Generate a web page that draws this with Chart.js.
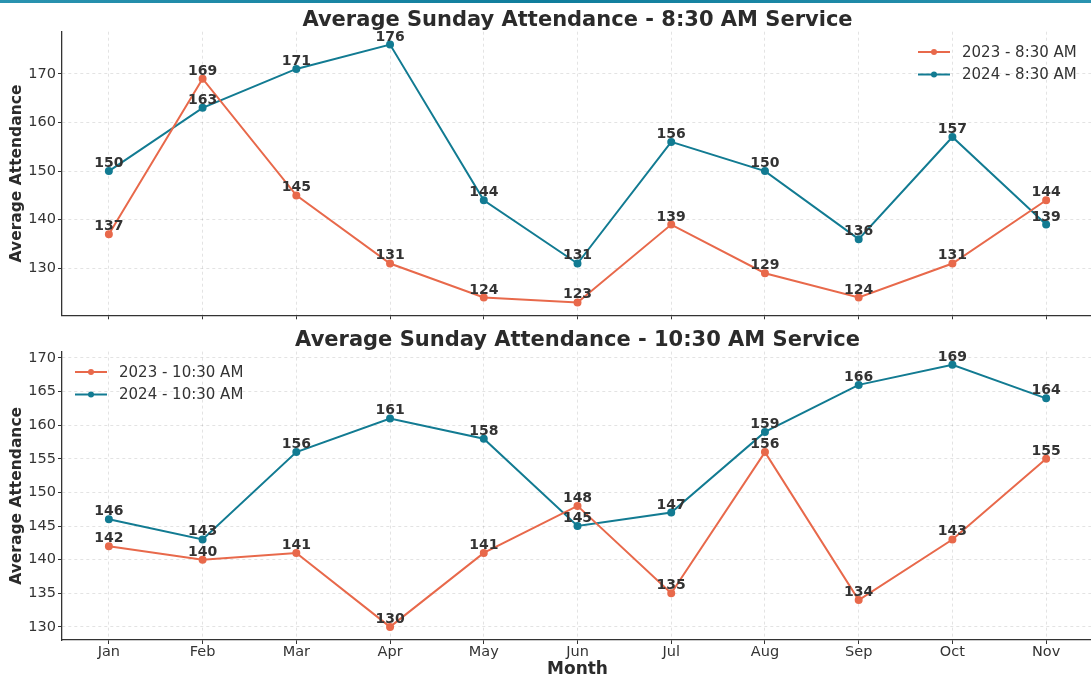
<!DOCTYPE html>
<html>
<head>
<meta charset="utf-8">
<script src="https://cdn.jsdelivr.net/npm/chart.js@4.4.0/dist/chart.umd.min.js"></script>
<style>
  body { margin: 0; width: 1091px; height: 681px; overflow: hidden; background: #fff; }
  #band { position: absolute; left: 0; top: 0; width: 1091px; height: 3px;
          background: linear-gradient(90deg, #2a93b0, #0f7d9c, #2a93b0); z-index: 2; }
  .box { position: absolute; left: 0; }
</style>
</head>
<body>
<div id="band"></div>
<div class="box" style="top:0"><canvas id="early" width="1100" height="326"></canvas></div>
<div class="box" style="top:326px"><canvas id="late" width="1100" height="355"></canvas></div>
<script>
// month labels and attendance per service
const months = ['Jan', 'Feb', 'Mar', 'Apr', 'May', 'Jun', 'Jul', 'Aug', 'Sep', 'Oct', 'Nov'];
const early2023 = [137, 169, 145, 131, 124, 123, 139, 129, 124, 131, 144];
const early2024 = [150, 163, 171, 176, 144, 131, 156, 150, 136, 157, 139];
const late2023 = [142, 140, 141, 130, 141, 148, 135, 156, 134, 143, 155];
const late2024 = [146, 143, 156, 161, 158, 145, 147, 159, 166, 169, 164];
const earlyTicks = [130, 140, 150, 160, 170];
const lateTicks = [130, 135, 140, 145, 150, 155, 160, 165, 170];

const ORANGE = '#e8694b';
const TEAL = '#127b92';
const FONT = "'DejaVu Sans', sans-serif";
const INK = '#333';

// matplotlib-style 5% margin around the data
function padRange(a, b) {
    const all = a.concat(b);
    const lo = Math.min(...all), hi = Math.max(...all);
    const m = (hi - lo) * 0.05;
    return [lo - m, hi + m];
}

// titles, legend and point labels
const decor = {
    id: 'decor',
    afterDatasetsDraw(chart) {
        const o = chart.options.plugins.decor;
        const ctx = chart.ctx;
        const area = chart.chartArea;
        ctx.save();

        // value labels
        ctx.font = 'bold 14px ' + FONT;
        ctx.fillStyle = INK;
        ctx.textAlign = 'center';
        ctx.textBaseline = 'alphabetic';
        chart.data.datasets.forEach((ds, i) => {
            chart.getDatasetMeta(i).data.forEach((pt, j) => {
                ctx.fillText(ds.data[j], pt.x, pt.y - 4);
            });
        });

        // title
        ctx.font = 'bold 21px ' + FONT;
        ctx.textBaseline = 'middle';
        ctx.fillStyle = '#2b2b2b';
        ctx.fillText(o.title, (area.left + area.right) / 2, o.titleY);

        // y axis title
        ctx.save();
        ctx.translate(17, (area.top + area.bottom) / 2);
        ctx.rotate(-Math.PI / 2);
        ctx.font = 'bold 15.5px ' + FONT;
        ctx.fillText('Average Attendance', 0, 0);
        ctx.restore();

        if (o.xTitle) {
            ctx.font = 'bold 17px ' + FONT;
            ctx.fillText(o.xTitle, (area.left + area.right) / 2, o.xTitleY);
        }

        // legend
        ctx.font = '15px ' + FONT;
        ctx.textAlign = 'left';
        chart.data.datasets.forEach((ds, i) => {
            const y = o.legendY + i * 22.5;
            const x = o.legendX;
            ctx.strokeStyle = ds.borderColor;
            ctx.lineWidth = 2;
            ctx.beginPath();
            ctx.moveTo(x, y);
            ctx.lineTo(x + 32, y);
            ctx.stroke();
            ctx.fillStyle = ds.borderColor;
            ctx.beginPath();
            ctx.arc(x + 16, y, 3, 0, Math.PI * 2);
            ctx.fill();
            ctx.fillStyle = INK;
            ctx.fillText(ds.label, x + 44, y + 1);
        });
        ctx.restore();
    }
};

function makeChart(id, labels, seriesA, seriesB, names, ticks, opts) {
    const range = padRange(seriesA, seriesB);
    return new Chart(document.getElementById(id), {
        type: 'line',
        data: {
            labels: labels,
            datasets: [
                { label: names[0], data: seriesA, borderColor: ORANGE, backgroundColor: ORANGE,
                  borderWidth: 2, pointRadius: 3, pointHoverRadius: 3, tension: 0 },
                { label: names[1], data: seriesB, borderColor: TEAL, backgroundColor: TEAL,
                  borderWidth: 2, pointRadius: 3, pointHoverRadius: 3, tension: 0 }
            ]
        },
        options: {
            responsive: false,
            animation: false,
            layout: { padding: { top: opts.top, right: 7, left: 0, bottom: 0 } },
            plugins: {
                legend: { display: false },
                tooltip: { enabled: false },
                decor: opts
            },
            scales: {
                x: {
                    type: 'category',
                    offset: true,
                    grid: { offset: false, color: 'rgba(0,0,0,0.11)', tickColor: INK, tickLength: 4, tickWidth: 1 },
                    border: { color: INK, width: 1.3, dash: [3, 3] },
                    ticks: {
                        display: opts.showX,
                        color: INK, padding: 0,
                        font: { family: FONT, size: 14.5 }
                    },
                    afterFit: (s) => { s.height = opts.xHeight; }
                },
                y: {
                    min: range[0],
                    max: range[1],
                    grid: { color: 'rgba(0,0,0,0.11)', tickColor: INK, tickLength: 4, tickWidth: 1 },
                    border: { color: INK, width: 1.3, dash: [3, 3] },
                    ticks: { color: INK, padding: 2, font: { family: FONT, size: 14.5 } },
                    afterBuildTicks: (s) => { s.ticks = ticks.map(v => ({ value: v })); },
                    afterFit: (s) => { s.width = 62; }
                }
            }
        },
        plugins: [decor]
    });
}

makeChart('early', months, early2023, early2024, ['2023 - 8:30 AM', '2024 - 8:30 AM'], earlyTicks, {
    title: 'Average Sunday Attendance - 8:30 AM Service', titleY: 20.5,
    top: 31.7, xHeight: 6, showX: false,
    legendX: 918, legendY: 52
});

makeChart('late', months, late2023, late2024, ['2023 - 10:30 AM', '2024 - 10:30 AM'], lateTicks, {
    title: 'Average Sunday Attendance - 10:30 AM Service', titleY: 14.5,
    top: 25.6, xHeight: 41, showX: true,
    xTitle: 'Month', xTitleY: 344,
    legendX: 75, legendY: 46
});
</script>
</body>
</html>
